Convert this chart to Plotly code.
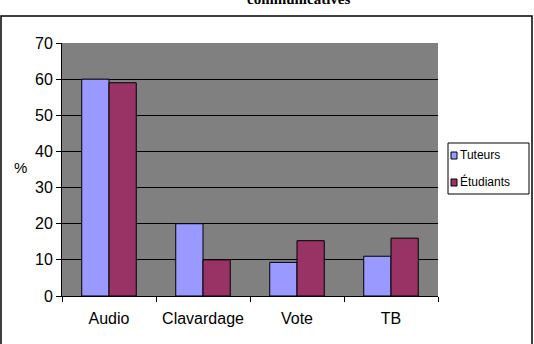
import plotly.graph_objects as go

categories = ["Audio", "Clavardage", "Vote", "TB"]
tuteurs = [60, 20, 9.3, 11]
etudiants = [59, 10, 15.3, 16]
series_names = ["Tuteurs", "Étudiants"]
series_colors = ["#9999FF", "#993366"]
y_ticks = [0, 10, 20, 30, 40, 50, 60, 70]

W, H = 534, 344
L, R, T, B = 62, 96, 43, 48
pw, ph = W - L - R, H - T - B

def px(x):
    return (x - L) / pw

def py(y):
    return (H - B - y) / ph

fig = go.Figure()
for name, vals, col in zip(series_names, [tuteurs, etudiants], series_colors):
    fig.add_trace(go.Bar(x=categories, y=vals, name=name,
                         marker=dict(color=col, line=dict(color="black", width=1))))

fig.update_layout(
    width=W, height=H,
    margin=dict(l=L, r=R, t=T, b=B, autoexpand=False),
    paper_bgcolor="white",
    plot_bgcolor="#808080",
    barmode="group",
    bargap=0.42,
    bargroupgap=0,
    font=dict(family="Liberation Sans, Arial", size=16, color="black"),
    showlegend=False,
    xaxis=dict(
        showline=True, linecolor="black", linewidth=1,
        ticks="outside", ticklen=5, tickcolor="black",
        tickson="boundaries", showgrid=False,
        tickfont=dict(size=16), ticklabelstandoff=8,
    ),
    yaxis=dict(
        range=[0, 70], tickvals=y_ticks,
        showline=True, linecolor="black", linewidth=1,
        ticks="outside", ticklen=5, tickcolor="black",
        showgrid=True, gridcolor="black", gridwidth=1,
        zeroline=False, tickfont=dict(size=16),
    ),
)

# outer chart border
fig.add_shape(type="rect", xref="paper", yref="paper",
              x0=px(1), x1=px(532), y0=py(360), y1=py(16),
              line=dict(color="black", width=1.5), fillcolor="rgba(0,0,0,0)", layer="below")

# custom legend
fig.add_shape(type="rect", xref="paper", yref="paper",
              x0=px(448), x1=px(529), y0=py(194), y1=py(143),
              line=dict(color="black", width=1), fillcolor="white")
for i, (name, col) in enumerate(zip(series_names, series_colors)):
    cy = 155 + i * 27
    fig.add_shape(type="rect", xref="paper", yref="paper",
                  x0=px(451), x1=px(457), y0=py(cy + 4), y1=py(cy - 3),
                  line=dict(color="black", width=1), fillcolor=col)
    fig.add_annotation(text=name, xref="paper", yref="paper", x=px(458), y=py(cy),
                       xanchor="left", yanchor="middle", showarrow=False,
                       font=dict(size=12))

fig.add_annotation(text="%", xref="paper", yref="paper", x=px(20), y=py(167),
                   showarrow=False, font=dict(size=15), xanchor="center", yanchor="middle")

fig.add_annotation(text="<b>communicatives</b>", xref="paper", yref="paper",
                   x=px(298), y=py(9), xanchor="center", yanchor="bottom",
                   showarrow=False, font=dict(family="Liberation Serif, Times New Roman", size=15))

fig.write_html("out.html")
